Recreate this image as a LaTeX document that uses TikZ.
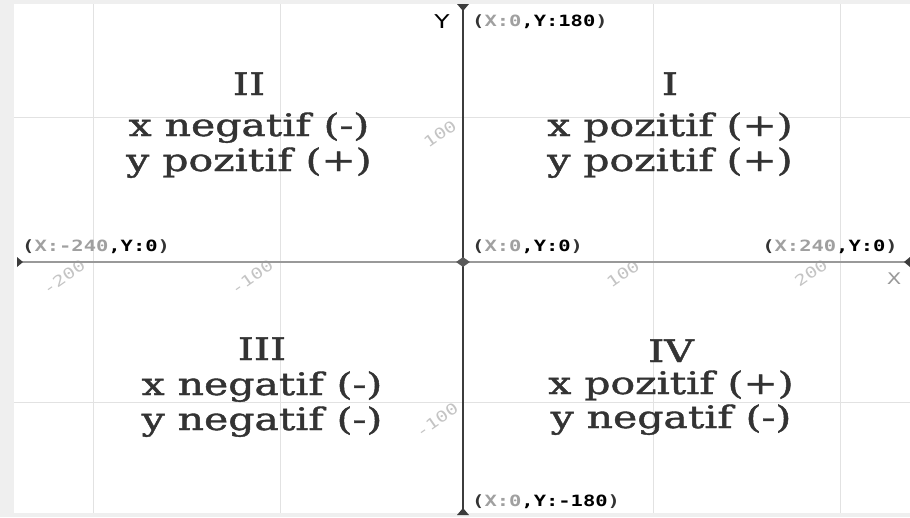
\documentclass[tikz,border=0pt]{standalone}
\usepackage{fontspec}
\setmainfont{DejaVu Serif}
\newfontfamily\quadfont{DejaVu Serif}[FakeBold=1.2]
\newfontfamily\monofont{DejaVu Sans Mono}
\newfontfamily\sansfont{DejaVu Sans}
\usetikzlibrary{shapes.geometric}
\definecolor{txt}{HTML}{333333}
\definecolor{gridc}{HTML}{E2E2E2}
\definecolor{xaxc}{HTML}{999999}
\definecolor{yaxc}{HTML}{3C3C3C}
\definecolor{ticklab}{HTML}{C4C4C4}
\definecolor{coordgray}{HTML}{A0A0A0}
\definecolor{frame}{HTML}{EFEFEF}
\newcommand{\sx}[1]{\scalebox{1.32}[1]{#1}}
\newcommand{\crd}[2]{\sx{\monofont\bfseries\fontsize{15.5}{17}\selectfont\textcolor{txt}{(}\textcolor{coordgray}{#1}\textcolor{black}{,#2}\textcolor{txt}{)}}}
\tikzset{
  quad/.style={anchor=base, inner sep=0pt, text=txt, font=\quadfont\fontsize{31}{34}\selectfont},
  coordlab/.style={anchor=base west, inner sep=0pt},
  ticklabel/.style={inner sep=0pt, text=ticklab, rotate=35, font=\monofont\fontsize{15}{16}\selectfont},
  gridline/.style={draw=gridc, line width=1pt},
}
\begin{document}
\begin{tikzpicture}[x=1pt,y=-1pt]
\useasboundingbox (0,0) rectangle (910,517);
\fill[white] (0,0) rectangle (910,517);
% frame bands
\fill[frame] (0,0) rectangle (910,4);
\fill[frame] (0,0) rectangle (14,517);
\fill[frame] (0,513) rectangle (910,517);
% grid
\foreach \gx in {93,280,653,840} \draw[gridline] (\gx,4) -- (\gx,513);
\foreach \gy in {117,402} \draw[gridline] (14,\gy) -- (910,\gy);
% tick labels
\node[ticklabel] (tm200) at (64,277) {\sx{-200}};
\node[ticklabel] (tm100) at (252,277) {\sx{-100}};
\node[ticklabel] (tp100) at (623,274) {\sx{100}};
\node[ticklabel] (tp200) at (811,273) {\sx{200}};
\node[ticklabel] (ty100) at (440,134) {\sx{100}};
\node[ticklabel] (tym100) at (437,420) {\sx{-100}};
% axes
\coordinate (xl) at (17,262);
\coordinate (xr) at (910,262);
\coordinate (yt) at (463,4);
\coordinate (yb) at (463,514);
\draw[xaxc, line width=2pt] (xl) -- (xr);
\draw[yaxc, line width=2.4pt] (yt) -- (yb);
\fill[yaxc] (457,4) -- (469,4) -- (463,11) -- cycle;
\fill[yaxc] (457,515) -- (469,515) -- (463,508) -- cycle;
\fill[yaxc] (17,257) -- (17,267) -- (23,262) -- cycle;
\fill[yaxc] (910,257) -- (910,267) -- (904,262) -- cycle;
\node[diamond, fill=yaxc!85, inner sep=0pt, minimum width=14pt, minimum height=10pt] (origin) at (463,262) {};
% axis names
\node[inner sep=0pt, text=black, font=\sansfont\fontsize{19}{20}\selectfont] (ylab) at (442,22) {\sx{Y}};
\node[inner sep=0pt, text=xaxc, font=\sansfont\fontsize{16}{18}\selectfont] (xlab) at (894,279) {\sx{X}};
% coordinate labels
\node[coordlab] (ctop) at (472,26) {\crd{X:0}{Y:180}};
\node[coordlab] (cleft) at (22,251) {\crd{X:-240}{Y:0}};
\node[coordlab] (corig) at (472,251) {\crd{X:0}{Y:0}};
\node[coordlab, anchor=base east] (cright) at (898,251) {\crd{X:240}{Y:0}};
\node[coordlab] (cbot) at (472,506) {\crd{X:0}{Y:-180}};
% quadrant texts
\node[quad] (q2a) at (249,95) {\sx{II}};
\node[quad] (q2b) at (249,136) {\sx{x negatif (-)}};
\node[quad] (q2c) at (249,171) {\sx{y pozitif (+)}};
\node[quad] (q1a) at (670,95) {\sx{I}};
\node[quad] (q1b) at (670,136) {\sx{x pozitif (+)}};
\node[quad] (q1c) at (670,171) {\sx{y pozitif (+)}};
\node[quad] (q3a) at (262,360) {\sx{III}};
\node[quad] (q3b) at (262,395) {\sx{x negatif (-)}};
\node[quad] (q3c) at (262,430) {\sx{y negatif (-)}};
\node[quad] (q4a) at (671,362) {\sx{IV}};
\node[quad] (q4b) at (671,394) {\sx{x pozitif (+)}};
\node[quad] (q4c) at (671,428) {\sx{y negatif (-)}};
\end{tikzpicture}
\end{document}
